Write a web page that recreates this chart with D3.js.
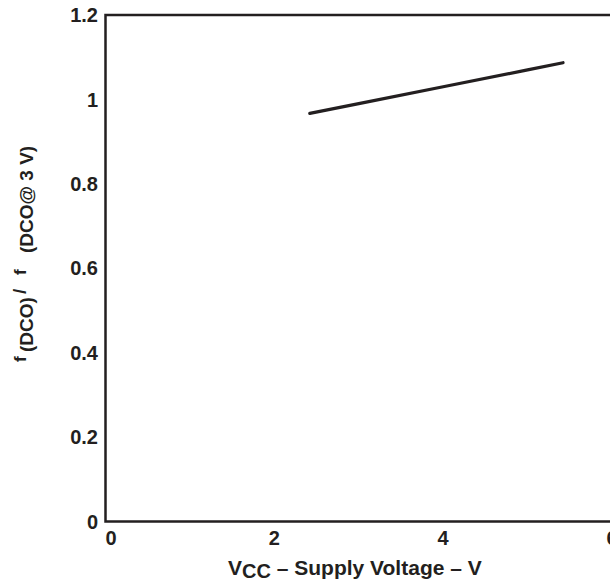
<!DOCTYPE html>
<html><head><meta charset="utf-8">
<script src="https://cdn.jsdelivr.net/npm/d3@7"></script>
<style>body{margin:0;background:#fff}svg{display:block}text{font-family:"Liberation Sans",Arial,sans-serif;font-weight:bold;fill:#231f20}</style>
</head><body>
<svg id="c" width="610" height="580"></svg>
<script>
const vcc = [2.42, 3, 4, 5, 5.42];
const ratio = [0.967, 0.990, 1.030, 1.070, 1.087];
const xTicks = [0, 2, 4, 6];
const yTicks = [0, 0.2, 0.4, 0.6, 0.8, 1, 1.2];
const yTickLabels = ["0", "0.2", "0.4", "0.6", "0.8", "1", "1.2"];

const svg = d3.select("#c");
const x = d3.scaleLinear().domain([0, 6]).range([105.5, 612]);
const y = d3.scaleLinear().domain([0, 1.2]).range([521.5, 15]);
const ink = "#231f20";

// frame
svg.append("path")
  .attr("d", `M${x(6)+3},${y(1.2)} H${x(0)} V${y(0)} H${x(6)+3}`)
  .attr("fill", "none").attr("stroke", ink).attr("stroke-width", 2.5);

// y tick labels
svg.append("g").selectAll("text").data(yTicks).join("text")
  .attr("x", 98).attr("y", d => y(d)).attr("dy", "0.36em")
  .attr("text-anchor", "end").attr("font-size", 20)
  .text((d, i) => yTickLabels[i]);

// x tick labels
svg.append("g").selectAll("text").data(xTicks).join("text")
  .attr("x", d => x(d) + (d === 0 ? 5.5 : 0)).attr("y", 545)
  .attr("text-anchor", "middle").attr("font-size", 20)
  .text(d => d);

// curve
svg.append("path").datum(vcc.map((v, i) => [v, ratio[i]]))
  .attr("d", d3.line().x(d => x(d[0])).y(d => y(d[1])))
  .attr("fill", "none").attr("stroke", ink).attr("stroke-width", 3.2)
  .attr("stroke-linecap", "round");

// x title
const xt = svg.append("text").attr("x", 228).attr("y", 575)
  .attr("text-anchor", "start").attr("font-size", 21);
xt.append("tspan").text("V");
xt.append("tspan").attr("font-size", 20).attr("dy", 3).text("CC");
xt.append("tspan").attr("dy", -3).text(" – Supply Voltage – V");

// y title (rotated; text x = -screenY)
const yt = svg.append("text").attr("transform", "translate(26,0) rotate(-90)")
  .attr("text-anchor", "start");
yt.append("tspan").attr("x", -362).attr("y", 0).attr("font-size", 17).text("f");
yt.append("tspan").attr("x", -352).attr("y", 7).attr("font-size", 19).text("(DCO)");
yt.append("tspan").attr("x", -294).attr("y", 0).attr("font-size", 19).text("/");
yt.append("tspan").attr("x", -275).attr("y", 0).attr("font-size", 17).text("f");
yt.append("tspan").attr("x", -253).attr("y", 7).attr("font-size", 19).text("(DCO@ 3 V)");
</script>
</body></html>
